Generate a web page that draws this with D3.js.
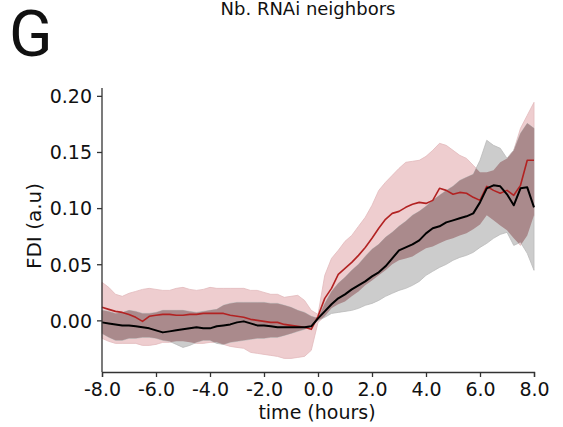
<!DOCTYPE html>
<html>
<head>
<meta charset="utf-8">
<script src="https://cdn.jsdelivr.net/npm/d3@7"></script>
<style>
  html, body { margin: 0; padding: 0; background: #fff; }
  svg { display: block; }
</style>
</head>
<body>
<svg id="chart" width="563" height="427"></svg>
<script>
// ---------------- data ----------------
const time = [-8.00,-7.75,-7.50,-7.25,-7.00,-6.75,-6.50,-6.25,-6.00,-5.75,-5.50,-5.25,-5.00,-4.75,-4.50,-4.25,-4.00,-3.75,-3.50,-3.25,-3.00,-2.75,-2.50,-2.25,-2.00,-1.75,-1.50,-1.25,-1.00,-0.75,-0.50,-0.25,0.00,0.25,0.50,0.75,1.00,1.25,1.50,1.75,2.00,2.25,2.50,2.75,3.00,3.25,3.50,3.75,4.00,4.25,4.50,4.75,5.00,5.25,5.50,5.75,6.00,6.25,6.50,6.75,7.00,7.25,7.50,7.75,8.00];

const redMean = [0.0116,0.0098,0.0080,0.0071,0.0053,0.0027,-0.0009,0.0036,0.0045,0.0053,0.0053,0.0045,0.0045,0.0053,0.0053,0.0062,0.0062,0.0062,0.0062,0.0045,0.0036,0.0027,0.0009,0.0000,-0.0009,-0.0018,-0.0018,-0.0036,-0.0045,-0.0053,-0.0062,-0.0080,0.0036,0.0196,0.0285,0.0410,0.0463,0.0517,0.0579,0.0650,0.0731,0.0820,0.0900,0.0953,0.0971,0.1007,0.1034,0.1051,0.1042,0.1069,0.1176,0.1158,0.1123,0.1140,0.1132,0.1096,0.1069,0.1194,0.1158,0.1132,0.1158,0.1114,0.1203,0.1426,0.1426];
const redHi = [0.0339,0.0294,0.0232,0.0214,0.0241,0.0258,0.0276,0.0285,0.0276,0.0267,0.0267,0.0285,0.0294,0.0276,0.0267,0.0276,0.0294,0.0285,0.0285,0.0285,0.0285,0.0285,0.0267,0.0267,0.0249,0.0232,0.0232,0.0205,0.0214,0.0223,0.0178,0.0089,0.0053,0.0401,0.0552,0.0624,0.0704,0.0757,0.0838,0.0918,0.1025,0.1158,0.1230,0.1292,0.1354,0.1408,0.1417,0.1426,0.1461,0.1515,0.1577,0.1559,0.1515,0.1470,0.1443,0.1381,0.1319,0.1319,0.1337,0.1408,0.1443,0.1515,0.1711,0.1827,0.1942];
const redLo = [-0.0160,-0.0187,-0.0205,-0.0205,-0.0205,-0.0205,-0.0223,-0.0223,-0.0214,-0.0196,-0.0196,-0.0187,-0.0187,-0.0196,-0.0205,-0.0205,-0.0196,-0.0196,-0.0214,-0.0232,-0.0241,-0.0249,-0.0285,-0.0294,-0.0303,-0.0312,-0.0321,-0.0339,-0.0339,-0.0330,-0.0321,-0.0267,-0.0018,0.0036,0.0107,0.0143,0.0169,0.0214,0.0258,0.0312,0.0356,0.0401,0.0446,0.0499,0.0535,0.0552,0.0570,0.0606,0.0642,0.0659,0.0686,0.0713,0.0731,0.0757,0.0775,0.0811,0.0855,0.0936,0.0891,0.0846,0.0802,0.0731,0.0668,0.0757,0.0936];

const blackMean = [-0.0018,-0.0027,-0.0036,-0.0045,-0.0045,-0.0053,-0.0062,-0.0071,-0.0089,-0.0107,-0.0098,-0.0089,-0.0080,-0.0071,-0.0062,-0.0071,-0.0071,-0.0053,-0.0045,-0.0036,-0.0018,-0.0009,-0.0027,-0.0045,-0.0045,-0.0053,-0.0062,-0.0062,-0.0062,-0.0062,-0.0062,-0.0053,0.0018,0.0080,0.0143,0.0196,0.0232,0.0276,0.0312,0.0347,0.0392,0.0428,0.0481,0.0552,0.0624,0.0650,0.0677,0.0713,0.0775,0.0820,0.0838,0.0873,0.0891,0.0909,0.0927,0.0953,0.1051,0.1176,0.1203,0.1194,0.1123,0.1025,0.1176,0.1185,0.1007];
const grayHi = [0.0089,0.0080,0.0062,0.0071,0.0089,0.0080,0.0062,0.0062,0.0071,0.0089,0.0089,0.0089,0.0089,0.0080,0.0071,0.0080,0.0089,0.0098,0.0134,0.0151,0.0160,0.0160,0.0160,0.0160,0.0160,0.0151,0.0151,0.0134,0.0116,0.0089,0.0071,0.0036,0.0018,0.0151,0.0258,0.0330,0.0383,0.0446,0.0499,0.0570,0.0633,0.0677,0.0740,0.0784,0.0838,0.0882,0.0936,0.0971,0.1016,0.1069,0.1114,0.1158,0.1194,0.1247,0.1274,0.1301,0.1426,0.1604,0.1559,0.1533,0.1443,0.1515,0.1666,0.1755,0.1711];
const grayLo = [-0.0116,-0.0151,-0.0178,-0.0178,-0.0160,-0.0160,-0.0151,-0.0151,-0.0160,-0.0178,-0.0187,-0.0214,-0.0241,-0.0223,-0.0196,-0.0178,-0.0178,-0.0205,-0.0214,-0.0196,-0.0187,-0.0178,-0.0169,-0.0160,-0.0160,-0.0151,-0.0151,-0.0134,-0.0116,-0.0098,-0.0080,-0.0053,0.0000,0.0027,0.0062,0.0071,0.0080,0.0089,0.0107,0.0134,0.0151,0.0178,0.0214,0.0241,0.0267,0.0285,0.0312,0.0347,0.0401,0.0437,0.0472,0.0499,0.0535,0.0561,0.0579,0.0606,0.0650,0.0686,0.0731,0.0766,0.0784,0.0668,0.0695,0.0597,0.0446];

const xTickValues = [-8, -6, -4, -2, 0, 2, 4, 6, 8];
const xTickLabels = ["-8.0", "-6.0", "-4.0", "-2.0", "0.0", "2.0", "4.0", "6.0", "8.0"];
const yTickValues = [0.00, 0.05, 0.10, 0.15, 0.20];
const yTickLabels = ["0.00", "0.05", "0.10", "0.15", "0.20"];

const titleText = "Nb. RNAi neighbors";
const panelLetter = "G";
const xLabel = "time (hours)";
const yLabel = "FDI (a.u)";

// ---------------- layout ----------------
const svg = d3.select("#chart");
const mLeft = 102, mRight = 534, mTop = 88, mBottom = 372;
const x = d3.scaleLinear().domain([-8, 8]).range([mLeft, mRight]);
const y = d3.scaleLinear().domain([-0.046, 0.207]).range([mBottom, mTop]);

const FONT = "'DejaVu Sans', sans-serif";
const pinkFill = "rgb(238,205,207)";
const grayFill = "rgb(204,204,204)";
const overlapFill = "rgb(170,138,140)";

const rows = time.map((t, i) => ({
  t, rm: redMean[i], rh: redHi[i], rl: redLo[i],
  bm: blackMean[i], gh: grayHi[i], gl: grayLo[i]
}));

const redArea = d3.area().x(d => x(d.t)).y0(d => y(d.rl)).y1(d => y(d.rh));
const grayArea = d3.area().x(d => x(d.t)).y0(d => y(d.gl)).y1(d => y(d.gh));
const redLine = d3.line().x(d => x(d.t)).y(d => y(d.rm));
const blackLine = d3.line().x(d => x(d.t)).y(d => y(d.bm));

const defs = svg.append("defs");
defs.append("clipPath").attr("id", "grayClip")
  .append("path").attr("d", grayArea(rows));

const plot = svg.append("g");
plot.append("path").attr("d", redArea(rows))
  .attr("fill", pinkFill).attr("stroke", "rgb(226,186,189)").attr("stroke-width", 0.8);
plot.append("path").attr("d", grayArea(rows))
  .attr("fill", grayFill).attr("stroke", "rgb(186,186,186)").attr("stroke-width", 0.8);
plot.append("path").attr("d", redArea(rows))
  .attr("clip-path", "url(#grayClip)")
  .attr("fill", overlapFill);

plot.append("path").attr("d", redLine(rows))
  .attr("fill", "none").attr("stroke", "rgb(178,34,34)").attr("stroke-width", 1.6)
  .attr("stroke-linejoin", "round");
plot.append("path").attr("d", blackLine(rows))
  .attr("fill", "none").attr("stroke", "#000").attr("stroke-width", 2)
  .attr("stroke-linejoin", "round");

// axes
const xAxis = d3.axisBottom(x).tickValues(xTickValues)
  .tickFormat((d, i) => xTickLabels[i]).tickSizeOuter(0).tickSize(5).tickPadding(5);
const yAxis = d3.axisLeft(y).tickValues(yTickValues)
  .tickFormat((d, i) => yTickLabels[i]).tickSizeOuter(0).tickSize(5).tickPadding(5);

const gx = svg.append("g").attr("transform", `translate(0,${mBottom})`).call(xAxis);
const gy = svg.append("g").attr("transform", `translate(${mLeft},0)`).call(yAxis);
gy.select(".domain").attr("d", `M0,${mTop}V${mBottom}`);

[gx, gy].forEach(g => {
  g.select(".domain").attr("stroke", "#333").attr("stroke-width", 1.3);
  g.selectAll(".tick line").attr("stroke", "#333").attr("stroke-width", 1.3);
  g.selectAll(".tick text").attr("font-family", FONT).attr("font-size", 19).attr("fill", "#111");
});
gx.selectAll(".tick text").attr("dy", null).attr("y", 24);
gy.selectAll(".tick text").attr("dy", "0.36em");

// labels
svg.append("text").attr("x", 317).attr("y", 419).attr("text-anchor", "middle")
  .attr("font-family", FONT).attr("font-size", 19).attr("fill", "#111").text(xLabel);
svg.append("text").attr("transform", `translate(41,226) rotate(-90)`)
  .attr("text-anchor", "middle")
  .attr("font-family", FONT).attr("font-size", 20).attr("fill", "#111").text(yLabel);
svg.append("text").attr("x", 308).attr("y", 15).attr("text-anchor", "middle")
  .attr("font-family", FONT).attr("font-size", 18).attr("fill", "#111").text(titleText);
svg.append("text").attr("x", 9).attr("y", 56)
  .attr("font-family", "Roboto, 'Liberation Sans', sans-serif").attr("font-size", 64).attr("fill", "#111").text(panelLetter);
</script>
</body>
</html>
